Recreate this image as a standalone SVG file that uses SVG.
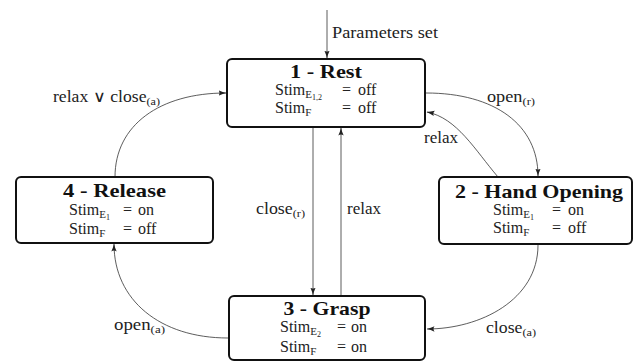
<svg xmlns="http://www.w3.org/2000/svg" width="634" height="361" viewBox="0 0 634 361">
<style>
.box{fill:#fff;stroke:#111;stroke-width:2}
.c{fill:none;stroke:#333;stroke-width:0.8}
text{font-family:"Liberation Serif","Times New Roman",serif;fill:#222}
.t{font-size:19px;font-weight:bold;text-anchor:middle;fill:#111}
.s{font-size:16px}
.l{font-size:16px}
.sb{font-size:11px}
.ss{font-size:8px}
</style>
<defs>
<marker id="a" viewBox="0 0 8 6" refX="7.5" refY="3" markerWidth="8" markerHeight="6" markerUnits="userSpaceOnUse" orient="auto">
<path d="M0,0.3 Q4,2.2 8,3 Q4,3.8 0,5.7 Q2,3 0,0.3Z" fill="#222"/>
</marker>
</defs>
<g id="connectors">
<path class="c" d="M327,10 L327,58" marker-end="url(#a)"/>
<path class="c" d="M426,93 C495,93 538,125 538,176" marker-end="url(#a)"/>
<path class="c" d="M498,177 C475,150 457,118 427,112" marker-end="url(#a)"/>
<path class="c" d="M115,177 C115,125 160,93 226,93" marker-end="url(#a)"/>
<path class="c" d="M313,128 L313,295" marker-end="url(#a)"/>
<path class="c" d="M341,296 L341,128" marker-end="url(#a)"/>
<path class="c" d="M538,245 C538,300 480,329 427,329" marker-end="url(#a)"/>
<path class="c" d="M228,338 C160,338 114,300 114,244" marker-end="url(#a)"/>
</g>
<g id="labels">
<text class="l" x="332" y="38" textLength="106" lengthAdjust="spacingAndGlyphs">Parameters set</text>
<text class="l" x="487" y="102" textLength="48" lengthAdjust="spacingAndGlyphs">open<tspan class="sb" dy="3">(r)</tspan></text>
<text class="l" x="424" y="143" textLength="34" lengthAdjust="spacingAndGlyphs">relax</text>
<text class="l" x="53" y="102" textLength="107" lengthAdjust="spacingAndGlyphs">relax ∨ close<tspan class="sb" dy="3">(a)</tspan></text>
<text class="l" x="256" y="214" textLength="49" lengthAdjust="spacingAndGlyphs">close<tspan class="sb" dy="3">(r)</tspan></text>
<text class="l" x="347" y="214" textLength="34" lengthAdjust="spacingAndGlyphs">relax</text>
<text class="l" x="486" y="333" textLength="50" lengthAdjust="spacingAndGlyphs">close<tspan class="sb" dy="3">(a)</tspan></text>
<text class="l" x="114" y="330" textLength="51" lengthAdjust="spacingAndGlyphs">open<tspan class="sb" dy="3">(a)</tspan></text>
</g>
<g id="rest">
<rect class="box" x="227" y="59" width="198" height="68" rx="5"/>
<text class="t" x="326" y="78" textLength="72" lengthAdjust="spacingAndGlyphs">1 - Rest</text>
<text class="s" x="275" y="95">Stim<tspan class="sb" dy="3">E</tspan><tspan class="ss" dy="2">1,2</tspan></text>
<text class="s" x="342" y="95">=</text><text class="s" x="358" y="95">off</text>
<text class="s" x="275" y="113">Stim<tspan class="sb" dy="3">F</tspan></text>
<text class="s" x="342" y="113">=</text><text class="s" x="358" y="113">off</text>
</g>
<g id="hand-opening">
<rect class="box" x="439" y="177" width="193" height="67" rx="5"/>
<text class="t" x="539" y="198" textLength="168" lengthAdjust="spacingAndGlyphs">2 - Hand Opening</text>
<text class="s" x="493" y="215">Stim<tspan class="sb" dy="3">E</tspan><tspan class="ss" dy="2">1</tspan></text>
<text class="s" x="552" y="215">=</text><text class="s" x="568" y="215">on</text>
<text class="s" x="493" y="233">Stim<tspan class="sb" dy="3">F</tspan></text>
<text class="s" x="552" y="233">=</text><text class="s" x="568" y="233">off</text>
</g>
<g id="grasp">
<rect class="box" x="229" y="296" width="196" height="64" rx="5"/>
<text class="t" x="327" y="315" textLength="87" lengthAdjust="spacingAndGlyphs">3 - Grasp</text>
<text class="s" x="280" y="332">Stim<tspan class="sb" dy="3">E</tspan><tspan class="ss" dy="2">2</tspan></text>
<text class="s" x="337" y="332">=</text><text class="s" x="351" y="332">on</text>
<text class="s" x="280" y="352">Stim<tspan class="sb" dy="3">F</tspan></text>
<text class="s" x="337" y="352">=</text><text class="s" x="351" y="352">on</text>
</g>
<g id="release">
<rect class="box" x="16" y="177" width="197" height="66" rx="5"/>
<text class="t" x="114.5" y="197" textLength="103" lengthAdjust="spacingAndGlyphs">4 - Release</text>
<text class="s" x="69" y="215">Stim<tspan class="sb" dy="3">E</tspan><tspan class="ss" dy="2">1</tspan></text>
<text class="s" x="123" y="215">=</text><text class="s" x="138" y="215">on</text>
<text class="s" x="69" y="234">Stim<tspan class="sb" dy="3">F</tspan></text>
<text class="s" x="123" y="234">=</text><text class="s" x="138" y="234">off</text>
</g>
</svg>
